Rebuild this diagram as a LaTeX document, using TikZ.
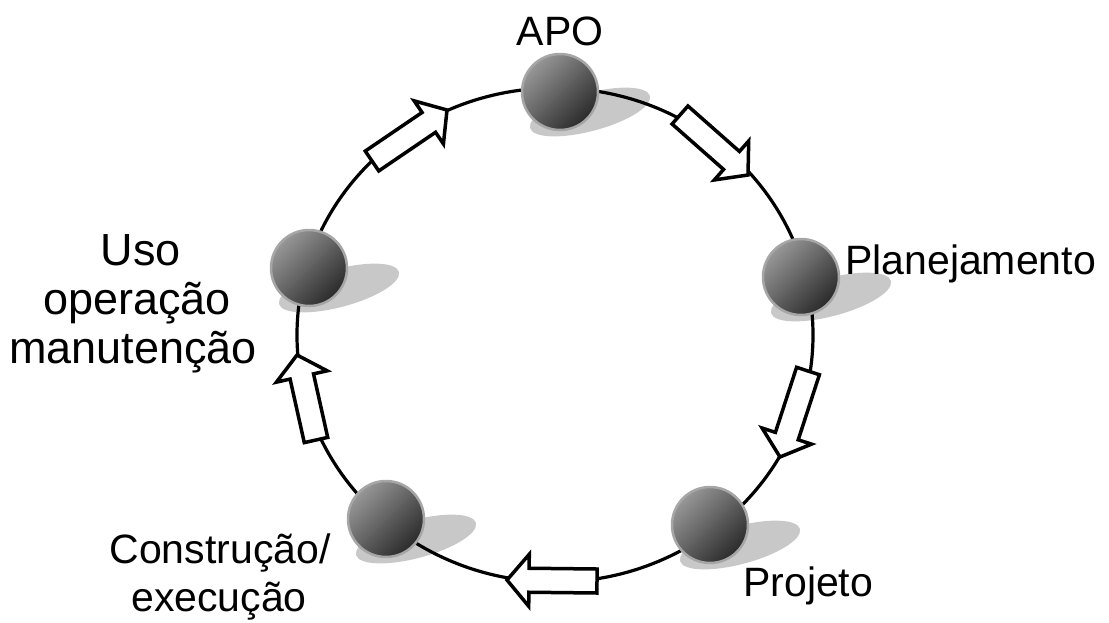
\documentclass[tikz,border=0pt]{standalone}
\usepackage{fontspec}
\setmainfont{Liberation Sans}
\usetikzlibrary{calc}
\definecolor{shadowgrey}{HTML}{C8C8C8}
\definecolor{balllight}{HTML}{979797}
\definecolor{balldark}{HTML}{2A2A2A}
\definecolor{ballrim}{HTML}{A6A6A6}
\tikzset{
  ball/.style={circle, minimum size=76pt, inner sep=0pt, draw=ballrim, line width=2.5pt,
    top color=balllight, bottom color=balldark, shading angle=45},
  shadowell/.style={fill=shadowgrey},
  ring/.style={draw=black, line width=3.2pt},
  blockarr/.style={draw=black, fill=white, line width=3.5pt, line join=miter},
  lbl/.style={font=\fontsize{41}{47}\selectfont, inner sep=0pt},
  biglbl/.style={font=\fontsize{45}{50}\selectfont, inner sep=0pt}
}
\newcommand\blockarrow[2]{%
  \coordinate (#1h) at ($(#2)!22pt!(#1)$);
  \draw[blockarr] ($(#1)!12pt!90:(#2)$) -- ($(#1h)!12pt!-90:(#1)$) -- ($(#1h)!26pt!-90:(#1)$) -- (#2)
    -- ($(#1h)!26pt!90:(#1)$) -- ($(#1h)!12pt!90:(#1)$) -- ($(#1)!12pt!-90:(#2)$) -- cycle;}
\begin{document}
\begin{tikzpicture}[x=1pt,y=-1pt]
\useasboundingbox (0,0) rectangle (1109,622);
% ball positions
\coordinate (capo) at (560,92);
\coordinate (cplan) at (801,277);
\coordinate (cproj) at (710,525);
\coordinate (ccons) at (386,519);
\coordinate (cuso) at (309,268);
% shadows
\foreach \c in {capo,cplan,cproj,ccons,cuso}{
  \begin{scope}[shift={(\c)}]
    \fill[shadowell, rotate around={15:(30,20)}] (30,20) ellipse [x radius=62, y radius=19];
  \end{scope}
}
% ring
\draw[ring] (555,335) ellipse [x radius=258, y radius=247];
% arrows
\coordinate (t1) at (372,161); \coordinate (p1) at (447,110);
\coordinate (t2) at (680,115); \coordinate (p2) at (748,175);
\coordinate (t3) at (808,371); \coordinate (p3) at (780,457);
\coordinate (t4) at (597,581); \coordinate (p4) at (507,580);
\coordinate (t5) at (316,440); \coordinate (p5) at (297,355);
\blockarrow{t1}{p1}
\blockarrow{t2}{p2}
\blockarrow{t3}{p3}
\blockarrow{t4}{p4}
\blockarrow{t5}{p5}
% balls
\node[ball] (apo) at (capo) {};
\node[ball] (plan) at (cplan) {};
\node[ball] (proj) at (cproj) {};
\node[ball] (cons) at (ccons) {};
\node[ball] (uso) at (cuso) {};
% labels
\node[lbl, anchor=base] (lapo) at (560,45) {APO};
\node[lbl, anchor=base west] (lplan) at (845,274) {Planejamento};
\node[lbl, anchor=base west] (lproj) at (743,596) {Projeto};
\node[lbl, anchor=base] (lcons1) at (220,563) {Construção/};
\node[lbl, anchor=base] (lcons2) at (219,611) {execução};
\node[biglbl, anchor=base] (luso1) at (141,265) {Uso};
\node[biglbl, anchor=base] (luso2) at (137,314) {operação};
\node[biglbl, anchor=base] (luso3) at (133,363) {manutenção};
\end{tikzpicture}
\end{document}
